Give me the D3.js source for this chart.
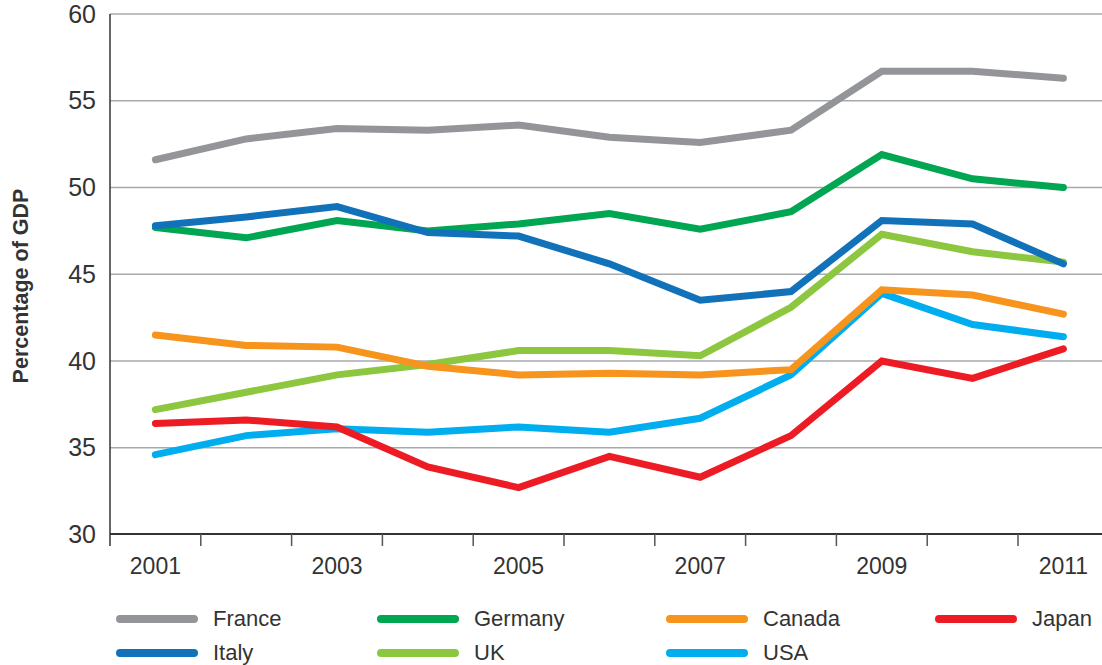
<!DOCTYPE html>
<html lang="en">
<head>
  <meta charset="UTF-8">
  <title>Percentage of GDP</title>
  <style>
    body { margin: 0; background: #fff; }
    text { font-family: "Liberation Sans", Arial, sans-serif; fill: #333; }
  </style>
</head>
<body>
  <script src="https://d3js.org/d3.v7.min.js"></script>
  <script>
    const width = 1102, height = 665;
    const margin = { top: 14, left: 110, bottom: 131, right: 0 };

    // data
    const years = [2001, 2002, 2003, 2004, 2005, 2006, 2007, 2008, 2009, 2010, 2011];
    const yTicks = [30, 35, 40, 45, 50, 55, 60];
    const france  = [51.6, 52.8, 53.4, 53.3, 53.6, 52.9, 52.6, 53.3, 56.7, 56.7, 56.3];
    const germany = [47.7, 47.1, 48.1, 47.5, 47.9, 48.5, 47.6, 48.6, 51.9, 50.5, 50.0];
    const italy   = [47.8, 48.3, 48.9, 47.4, 47.2, 45.6, 43.5, 44.0, 48.1, 47.9, 45.6];
    const uk      = [37.2, 38.2, 39.2, 39.8, 40.6, 40.6, 40.3, 43.1, 47.3, 46.3, 45.7];
    const canada  = [41.5, 40.9, 40.8, 39.7, 39.2, 39.3, 39.2, 39.5, 44.1, 43.8, 42.7];
    const usa     = [34.6, 35.7, 36.1, 35.9, 36.2, 35.9, 36.7, 39.2, 43.9, 42.1, 41.4];
    const japan   = [36.4, 36.6, 36.2, 33.9, 32.7, 34.5, 33.3, 35.7, 40.0, 39.0, 40.7];

    const series = [
      { name: 'France', values: france, color: '#939598' },
      { name: 'Germany', values: germany, color: '#00a651' },
      { name: 'Canada', values: canada, color: '#f7941d' },
      { name: 'Japan', values: japan, color: '#ed1c24' },
      { name: 'Italy', values: italy, color: '#1172ba' },
      { name: 'UK', values: uk, color: '#8dc63f' },
      { name: 'USA', values: usa, color: '#00aeef' }
    ];
    // drawing order (back to front)
    const drawOrder = ['France', 'Germany', 'UK', 'Italy', 'USA', 'Canada', 'Japan'];
    // legend column offsets
    const legendCols = [120, 381, 670, 939];

    const svg = d3.select('body').append('svg').attr('width', width).attr('height', height);

    const plotBottom = height - margin.bottom;
    const x = d3.scaleBand().domain(years).range([margin.left, margin.left + 11 * 90.8]);
    const y = d3.scaleLinear().domain([30, 60]).range([plotBottom + 0.5, margin.top]);

    // gridlines
    svg.append('g')
      .selectAll('line').data(yTicks.filter(d => d > 30))
      .enter().append('line')
      .attr('x1', margin.left).attr('x2', width)
      .attr('y1', d => y(d)).attr('y2', d => y(d))
      .attr('stroke', '#a7a9ac').attr('stroke-width', 1.5);

    // y axis labels
    const yAxis = d3.axisLeft(y).tickValues(yTicks).tickSize(0).tickPadding(14);
    const gy = svg.append('g').attr('transform', `translate(${margin.left},0)`).call(yAxis);
    gy.select('.domain').remove();
    gy.selectAll('text').attr('font-size', 25).style('font-family', '"Liberation Sans", Arial, sans-serif').attr('fill', '#333');

    // left axis line
    svg.append('line')
      .attr('x1', margin.left).attr('x2', margin.left)
      .attr('y1', margin.top).attr('y2', plotBottom + 12)
      .attr('stroke', '#333').attr('stroke-width', 1.5);

    // x axis
    svg.append('line')
      .attr('x1', margin.left).attr('x2', width)
      .attr('y1', plotBottom).attr('y2', plotBottom)
      .attr('stroke', '#333').attr('stroke-width', 2);

    svg.append('g')
      .selectAll('line').data(years.slice(1))
      .enter().append('line')
      .attr('x1', d => x(d)).attr('x2', d => x(d))
      .attr('y1', plotBottom).attr('y2', plotBottom + 12)
      .attr('stroke', '#555').attr('stroke-width', 1.5);

    svg.append('g')
      .selectAll('text').data(years.filter(d => d % 2 === 1))
      .enter().append('text')
      .attr('x', d => x(d) + x.bandwidth() / 2)
      .attr('y', plotBottom + 40)
      .attr('text-anchor', 'middle')
      .attr('font-size', 23)
      .text(d => d);

    // y title
    svg.append('text')
      .attr('transform', `translate(28,${(margin.top + plotBottom) / 2 + 12}) rotate(-90)`)
      .attr('text-anchor', 'middle')
      .attr('font-size', 21.5).attr('font-weight', 'bold')
      .attr('fill', '#222')
      .text('Percentage of GDP');

    // lines
    const line = d3.line()
      .x((d, i) => x(years[i]) + x.bandwidth() / 2)
      .y(d => y(d));

    svg.append('g')
      .selectAll('path').data(drawOrder.map(n => series.find(s => s.name === n)))
      .enter().append('path')
      .attr('d', d => line(d.values))
      .attr('fill', 'none')
      .attr('stroke', d => d.color)
      .attr('stroke-width', 7)
      .attr('stroke-linecap', 'round')
      .attr('stroke-linejoin', 'miter');

    // legend
    const legend = svg.append('g')
      .selectAll('g').data(series)
      .enter().append('g')
      .attr('transform', (d, i) => `translate(${legendCols[i % 4]},${619 + Math.floor(i / 4) * 34})`);

    legend.append('line')
      .attr('x1', 0).attr('x2', 74)
      .attr('stroke', d => d.color)
      .attr('stroke-width', 8)
      .attr('stroke-linecap', 'round');

    legend.append('text')
      .attr('x', 93).attr('dy', '0.33em')
      .attr('font-size', 22)
      .text(d => d.name);
  </script>
</body>
</html>
